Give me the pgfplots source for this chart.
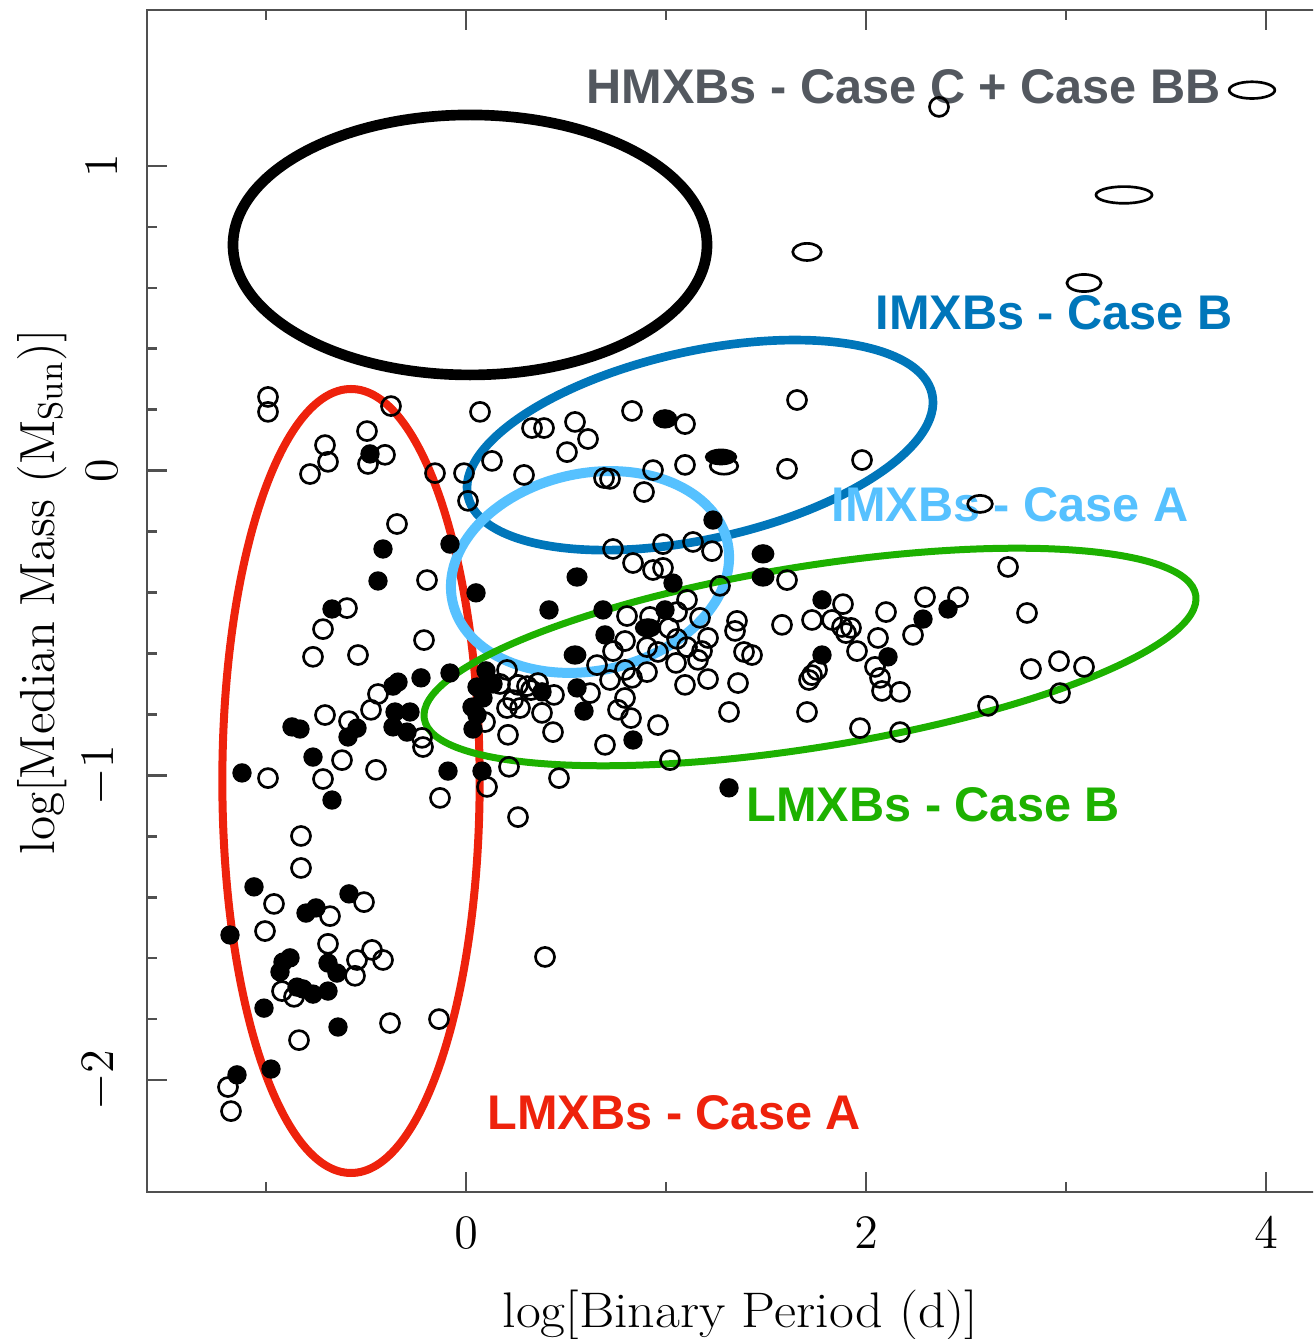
\documentclass[border=0pt]{standalone}
\usepackage{fontspec}
\usepackage{graphicx}
\usepackage{pgfplots}
\pgfplotsset{compat=1.18}
\newfontfamily\annotfont{Liberation Sans}

\definecolor{hmxb}{HTML}{53585F}
\definecolor{imxbB}{HTML}{0076BA}
\definecolor{imxbA}{HTML}{56C1FF}
\definecolor{lmxbB}{HTML}{1DB100}
\definecolor{lmxbA}{HTML}{EE220C}
\definecolor{frame}{HTML}{505050}

\pgfplotsset{
  opensym/.style={only marks, mark=o, mark size=2.85pt, mark options={line width=0.8pt, black, #1}},
  opensym/.default={},
  fillsym/.style={only marks, mark=*, mark size=2.6pt, mark options={line width=0.6pt, draw=black, fill=black, #1}},
  fillsym/.default={},
}

\begin{document}
\begin{tikzpicture}
\path[use as bounding box, clip] (0,0) rectangle (393.9pt,401.7pt);
\begin{axis}[
  at={(44.1pt,44.1pt)}, anchor=south west,
  scale only axis, width=359.7pt, height=354.6pt,
  xmin=-1.595, xmax=4.4, ymin=-2.3675, ymax=1.5121,
  xtick={0,2,4}, minor xtick={-1,1,3},
  ytick={-2,-1,0,1}, minor y tick num=4,
  tick align=inside, xtick pos=both, ytick pos=both,
  major tick length=6pt, minor tick length=3pt,
  axis line style={frame, line width=0.8pt},
  every tick/.style={frame, line width=0.8pt},
  tick label style={font=\fontsize{14}{16}\selectfont},
  xticklabel style={inner ysep=7.5pt},
  yticklabel style={rotate=90, anchor=south, inner ysep=8.5pt},
  xlabel={\scalebox{1.08}[1]{log[Binary Period (d)]}},
  ylabel={log[Median Mass (M$_{\mathrm{Sun}}$)]},
  xlabel style={font=\fontsize{15}{18}\selectfont, anchor=center, at={(axis description cs:0.495,-0.104)}},
  ylabel style={font=\fontsize{14.8}{17}\selectfont, anchor=center, at={(axis description cs:-0.0876,0.508)}},
]
% open symbols
\addplot[opensym] coordinates {
(2.365,1.194) (-0.99,0.242) (-0.99,0.193) (-0.375,0.212) (0.07,0.193)
(0.83,0.196) (1.655,0.232) (1.095,0.153) (0.33,0.140) (0.39,0.140)
(0.545,0.160) (0.61,0.104) (0.505,0.061) (-0.495,0.130) (-0.705,0.084)
(-0.69,0.029) (-0.78,-0.011) (-0.405,0.052) (-0.49,0.022) (-0.155,-0.008)
(-0.01,-0.008) (0.13,0.032) (0.29,-0.014) (0.01,-0.099) (1.095,0.019)
(1.605,0.006) (1.98,0.035) (0.69,-0.024) (0.72,-0.027) (0.935,0.002)
(0.89,-0.070) (-0.345,-0.175) (0.735,-0.257) (0.835,-0.303) (0.985,-0.241)
(1.135,-0.234) (1.23,-0.264) (0.935,-0.326) (0.985,-0.319) (1.605,-0.359)
(-0.195,-0.359) (1.27,-0.378) (2.71,-0.316) (0.805,-0.477) (1.105,-0.424)
(1.055,-0.464) (1.17,-0.483) (0.92,-0.480) (1.015,-0.516) (0.795,-0.559)
(0.735,-0.592) (0.905,-0.579) (0.96,-0.595) (1.055,-0.552) (1.105,-0.579)
(1.21,-0.549) (1.18,-0.592) (1.355,-0.493) (1.345,-0.526) (1.58,-0.506)
(1.73,-0.490) (1.885,-0.438) (1.83,-0.490) (1.88,-0.513) (1.925,-0.516)
(1.90,-0.533) (2.10,-0.464) (2.06,-0.549) (2.235,-0.539) (1.955,-0.592)
(1.39,-0.595) (1.43,-0.605) (2.045,-0.644) (2.07,-0.680) (2.08,-0.723)
(2.17,-0.726) (2.295,-0.415) (2.46,-0.415) (2.805,-0.467) (1.755,-0.654)
(1.73,-0.671) (1.715,-0.687) (0.655,-0.638) (0.795,-0.654) (0.905,-0.661)
(0.72,-0.687) (0.83,-0.680) (1.05,-0.631) (1.16,-0.621) (1.095,-0.703)
(1.21,-0.684) (1.36,-0.697) (0.62,-0.730) (0.44,-0.736) (0.795,-0.746)
(0.76,-0.785) (0.825,-0.812) (0.96,-0.835) (1.315,-0.792) (1.705,-0.792)
(0.435,-0.858) (0.21,-0.867) (0.695,-0.900) (1.02,-0.950) (0.215,-0.972)
(0.465,-1.009) (0.105,-1.038) (-0.13,-1.074) (1.97,-0.845) (2.17,-0.858)
(2.61,-0.772) (2.825,-0.651) (2.965,-0.625) (3.09,-0.644) (2.97,-0.730)
(-0.595,-0.451) (-0.715,-0.520) (-0.765,-0.611) (-0.54,-0.605) (-0.21,-0.556)
(-0.44,-0.733) (-0.475,-0.785) (-0.705,-0.802) (-0.585,-0.822) (-0.22,-0.877)
(-0.215,-0.907) (-0.62,-0.950) (-0.45,-0.982) (-0.99,-1.009) (-0.715,-1.012)
(0.17,-0.700) (0.205,-0.654) (0.26,-0.703) (0.305,-0.707) (0.325,-0.720)
(0.36,-0.697) (0.205,-0.779) (0.27,-0.779) (0.38,-0.795) (0.235,-0.753)
(0.095,-0.825) (0.26,-1.137) (-0.825,-1.199) (-0.825,-1.304) (-0.96,-1.422)
(-0.51,-1.416) (-0.68,-1.462) (-1.005,-1.511) (-0.69,-1.553) (0.395,-1.596)
(-0.545,-1.606) (-0.47,-1.573) (-0.415,-1.606) (-0.555,-1.658) (-0.92,-1.708)
(-0.86,-1.727) (-0.38,-1.813) (-0.135,-1.800) (-0.835,-1.869) (-1.19,-2.023)
(-1.175,-2.102)
};
% filled symbols
\addplot[fillsym] coordinates {
(-0.48,0.055) (1.235,-0.162) (-0.415,-0.257) (-0.08,-0.241) (-0.44,-0.362)
(0.05,-0.401) (1.035,-0.369) (0.415,-0.457) (0.685,-0.457) (0.995,-0.457)
(0.695,-0.539) (1.78,-0.424) (1.78,-0.605) (2.11,-0.611) (2.41,-0.454)
(2.285,-0.487) (0.555,-0.713) (0.59,-0.789) (0.835,-0.884) (-0.09,-0.986)
(0.08,-0.986) (-0.67,-1.081) (1.315,-1.041) (-0.67,-0.454) (-0.08,-0.664)
(-0.225,-0.680) (-0.34,-0.694) (-0.365,-0.707) (-0.87,-0.841) (-0.83,-0.848)
(-0.545,-0.845) (-0.59,-0.874) (-0.355,-0.792) (-0.28,-0.792) (-0.365,-0.841)
(-0.295,-0.858) (-0.765,-0.940) (-1.12,-0.992) (0.10,-0.657) (0.055,-0.710)
(0.135,-0.700) (0.085,-0.746) (0.38,-0.726) (0.03,-0.776) (0.055,-0.802)
(0.035,-0.848) (-1.06,-1.366) (-0.585,-1.389) (-0.80,-1.452) (-0.75,-1.435)
(-1.18,-1.524) (-0.88,-1.599) (-0.915,-1.613) (-0.93,-1.645) (-0.69,-1.616)
(-0.645,-1.649) (-0.845,-1.695) (-0.815,-1.701) (-0.765,-1.718) (-0.69,-1.708)
(-1.01,-1.764) (-0.64,-1.826) (-1.145,-1.983) (-0.975,-1.964)
};
% elongated symbols
\addplot[opensym={xscale=2.4, yscale=0.88}] coordinates {(3.93,1.249)};
\addplot[opensym={xscale=2.95, yscale=0.88}] coordinates {(3.29,0.905)};
\addplot[opensym={xscale=1.5, yscale=0.9}] coordinates {(1.705,0.718)};
\addplot[opensym={xscale=1.8, yscale=0.9}] coordinates {(3.09,0.616)};
\addplot[opensym={xscale=1.3, yscale=0.9}] coordinates {(2.57,-0.109)};
\addplot[opensym={xscale=1.45, yscale=0.85}] coordinates {(1.29,0.015)};
\addplot[fillsym={xscale=1.3}] coordinates {(0.995,0.170)};
\addplot[fillsym={xscale=1.75, yscale=0.85}] coordinates {(1.275,0.045)};
\addplot[fillsym={xscale=1.2}] coordinates {(1.485,-0.273) (1.485,-0.349) (0.545,-0.605)};
\addplot[fillsym={xscale=1.1}] coordinates {(0.555,-0.349)};
\addplot[fillsym={xscale=1.4}] coordinates {(0.91,-0.516)};

% population regions
\draw[black, line width=3.2pt] (axis cs:0.02,0.741) ellipse [x radius=71.1pt, y radius=39pt];
\draw[lmxbA, line width=2.4pt] (axis cs:-0.575,-1.0185) ellipse [x radius=38.6pt, y radius=117.6pt];
\draw[imxbB, line width=2.6pt, rotate around={12.4:(axis cs:1.17,0.084)}] (axis cs:1.17,0.084) ellipse [x radius=71.3pt, y radius=28.2pt];
\draw[imxbA, line width=3pt, rotate around={12.1:(axis cs:0.62,-0.3325)}] (axis cs:0.62,-0.3325) ellipse [x radius=42.2pt, y radius=29.6pt];
\draw[lmxbB, line width=2.1pt, rotate around={9.1:(axis cs:1.72,-0.6115)}] (axis cs:1.72,-0.6115) ellipse [x radius=117.2pt, y radius=27.2pt];

% region names
\begin{scope}[every node/.style={anchor=base west, inner sep=0pt, font={\fontsize{14.6}{17}\selectfont\annotfont\bfseries}}]
\node[text=hmxb] at (axis cs:0.6,1.2036) {HMXBs - Case C + Case BB};
\node[text=imxbB] at (axis cs:2.045,0.4618) {IMXBs - Case B};
\node[text=imxbA] at (axis cs:1.825,-0.168) {IMXBs - Case A};
\node[text=lmxbB] at (axis cs:1.40,-1.153) {LMXBs - Case B};
\node[text=lmxbA] at (axis cs:0.105,-2.164) {LMXBs - Case A};
\end{scope}
\end{axis}
\end{tikzpicture}
\end{document}
